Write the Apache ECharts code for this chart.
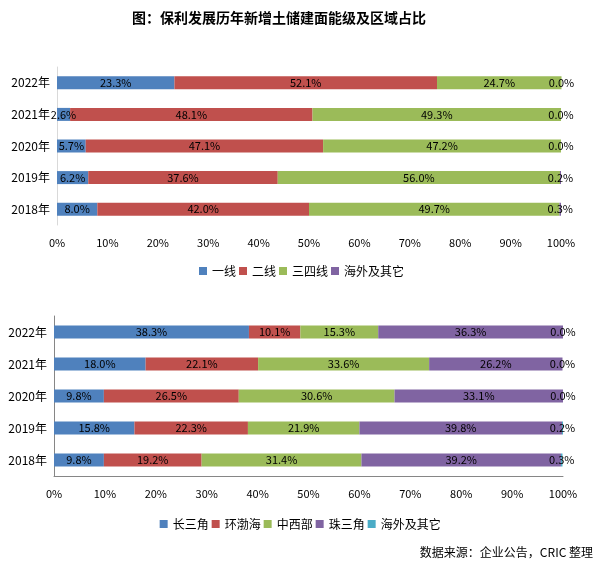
<!DOCTYPE html>
<html>
<head>
<meta charset="utf-8">
<script src="https://cdn.jsdelivr.net/npm/echarts@6/dist/echarts.min.js"></script>
<style>
  html, body { margin: 0; padding: 0; background: #fff; }
  #main { width: 603px; height: 574px; }
</style>
</head>
<body>
<div id="main"></div>
<script>
// years, bottom to top
const years = ['2018年', '2019年', '2020年', '2021年', '2022年'];
const xTicks = [0, 10, 20, 30, 40, 50, 60, 70, 80, 90, 100];

// 能级占比 (%)
const tierNames = ['一线', '二线', '三四线', '海外及其它'];
const tier1 = [8.0, 6.2, 5.7, 2.6, 23.3];
const tier2 = [42.0, 37.6, 47.1, 48.1, 52.1];
const tier34 = [49.7, 56.0, 47.2, 49.3, 24.7];
const tierOverseas = [0.3, 0.2, 0.0, 0.0, 0.0];

// 区域占比 (%)
const regionNames = ['长三角', '环渤海', '中西部', '珠三角', '海外及其它'];
const yrd = [9.8, 15.8, 9.8, 18.0, 38.3];
const bohai = [19.2, 22.3, 26.5, 22.1, 10.1];
const midwest = [31.4, 21.9, 30.6, 33.6, 15.3];
const prd = [39.2, 39.8, 33.1, 26.2, 36.3];
const regionOverseas = [0.3, 0.2, 0.0, 0.0, 0.0];

const colors = ['#4f81bd', '#c0504d', '#9bbb59', '#8064a2', '#4bacc6'];
const font = 'Noto Sans CJK SC';

const chart = echarts.init(document.getElementById('main'));

function makeSeries(name, data, idx, color, stack) {
  return {
    name: name,
    type: 'bar',
    stack: stack,
    xAxisIndex: idx,
    yAxisIndex: idx,
    barWidth: 13,
    clip: false,
    data: data,
    itemStyle: { color: color },
    label: {
      show: true,
      position: 'inside',
      color: '#000',
      fontSize: 11,
      fontFamily: font,
      formatter: p => p.value.toFixed(1) + '%'
    },
    emphasis: { disabled: true }
  };
}

const topData = [tier1, tier2, tier34, tierOverseas];
const bottomData = [yrd, bohai, midwest, prd, regionOverseas];

const series = [];
topData.forEach((d, i) => series.push(makeSeries(tierNames[i], d, 0, colors[i], 'tier')));
bottomData.forEach((d, i) => {
  // second "海外及其它" gets a distinct internal name
  const nm = i === 4 ? '海外及其它 ' : regionNames[i];
  series.push(makeSeries(nm, d, 1, colors[i], 'region'));
});

function xAxis(idx, lineColor) {
  return {
    type: 'value',
    gridIndex: idx,
    min: 0,
    max: 100,
    interval: 10,
    axisLine: { show: idx === 1, lineStyle: { color: lineColor } },
    axisTick: { show: false },
    splitLine: { show: false },
    axisLabel: {
      color: '#000',
      fontSize: 11,
      fontFamily: font,
      margin: 12,
      formatter: v => xTicks.includes(v) ? v + '%' : ''
    }
  };
}

function yAxis(idx, lineColor) {
  return {
    type: 'category',
    gridIndex: idx,
    data: years,
    axisLine: { show: true, lineStyle: { color: lineColor } },
    axisTick: { show: false },
    axisLabel: { color: '#000', fontSize: 12, fontFamily: font, margin: 7 }
  };
}

const legendText = { color: '#000', fontSize: 12, fontFamily: font };

chart.setOption({
  animation: false,
  textStyle: { fontFamily: font },
  title: {
    text: '图：保利发展历年新增土储建面能级及区域占比',
    left: 127,
    top: 6,
    textStyle: { fontSize: 14, fontWeight: 'bold', color: '#000', fontFamily: font }
  },
  legend: [
    {
      data: tierNames.map((n, i) => ({ name: n, itemStyle: { color: colors[i] } })),
      left: 'center',
      top: 260,
      itemWidth: 8,
      itemHeight: 8,
      itemGap: 3,
      icon: 'rect',
      textStyle: legendText,
      selectedMode: false
    },
    {
      data: regionNames.map((n, i) => ({ name: i === 4 ? '海外及其它 ' : n, itemStyle: { color: colors[i] } })),
      left: 'center',
      top: 513,
      itemWidth: 8,
      itemHeight: 8,
      itemGap: 3,
      icon: 'rect',
      textStyle: legendText,
      selectedMode: false
    }
  ],
  graphic: [{
    type: 'text',
    right: 10,
    top: 546,
    style: { text: '数据来源：企业公告，CRIC 整理', fill: '#000', fontSize: 12, fontFamily: font }
  }],
  grid: [
    { left: 57, right: 42, top: 67, height: 158 },
    { left: 54, right: 40, top: 316, height: 160 }
  ],
  xAxis: [xAxis(0, '#d9d9d9'), xAxis(1, '#868686')],
  yAxis: [yAxis(0, '#d9d9d9'), yAxis(1, '#868686')],
  series: series
});
</script>
</body>
</html>
